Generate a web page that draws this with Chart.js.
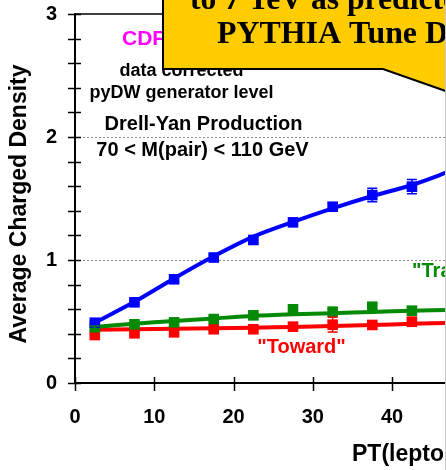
<!DOCTYPE html>
<html>
<head>
<meta charset="utf-8">
<script src="https://cdn.jsdelivr.net/npm/chart.js@4"></script>
<style>
html,body{margin:0;padding:0;background:#fff;}
canvas{display:block;}
</style>
</head>
<body>
<canvas id="c" width="446" height="470"></canvas>
<script>
// data
var ptBins=[2.5,7.5,12.5,17.5,22.5,27.5,32.5,37.5,42.5];
var fitBins=[2.5,7.5,12.5,17.5,22.5,27.5,32.5,37.5,42.5,47.5];

var awayData=[0.49,0.656,0.843,1.02,1.163,1.306,1.433,1.528,1.596];
var awayErr=[0.015,0.015,0.02,0.02,0.025,0.025,0.03,0.055,0.058];
var awayFit=[0.49,0.66,0.85,1.03,1.19,1.31,1.42,1.52,1.61,1.726];

var transData=[0.453,0.477,0.493,0.52,0.55,0.599,0.58,0.62,0.588];
var transErr=[0.01,0.01,0.01,0.015,0.015,0.02,0.02,0.025,0.025];
var transFit=[0.455,0.482,0.505,0.525,0.545,0.558,0.568,0.578,0.587,0.595];

var towardData=[0.39,0.404,0.412,0.437,0.437,0.458,0.474,0.472,0.498];
var towardErr=[0.01,0.01,0.01,0.015,0.015,0.02,0.06,0.03,0.035];
var towardFit=[0.433,0.437,0.441,0.445,0.449,0.456,0.464,0.472,0.481,0.49];

var xTicks=[0,10,20,30,40];
var yTicks=[0,1,2,3];

var BLUE='#0000ff', GREEN='#058a05', RED='#ff0000';
var SANS='"Liberation Sans", Arial, sans-serif';
var SERIF='"Liberation Serif", "Times New Roman", serif';

function pts(xs,ys){
	var out=[];
	for(var i=0;i<xs.length;i++){
		out.push({x:xs[i],y:ys[i]});
	}
	return out;
}
function markerSet(data,err,color){
	return {
		type:'scatter',
		data:pts(ptBins,data),
		err:err,
		backgroundColor:color,
		borderColor:color,
		pointStyle:'rect',
		pointRadius:7.5,
		borderWidth:0
	};
}
function fitSet(data,color){
	return {
		type:'line',
		data:pts(fitBins,data),
		borderColor:color,
		borderWidth:4,
		pointRadius:0,
		tension:0.3,
		fill:false
	};
}
function txt(ctx,s,x,y,font,color,align){
	ctx.font=font;
	ctx.fillStyle=color;
	ctx.textAlign=align||'left';
	ctx.textBaseline='middle';
	ctx.fillText(s,x,y);
}
// draw s so that its leading part `lead` spans `span` px
function fitted(ctx,s,lead,span,x,y,font){
	ctx.font=font;
	var sx=span/ctx.measureText(lead).width;
	ctx.save();
	ctx.translate(x,y);
	ctx.scale(sx,1);
	txt(ctx,s,0,0,font,'#000');
	ctx.restore();
}
function noPad(s){
	s.paddingTop=0;s.paddingBottom=0;s.paddingLeft=0;s.paddingRight=0;
}

var decor={
	id:'decor',
	beforeDatasetsDraw:function(chart){
		var ctx=chart.ctx, a=chart.chartArea, ys=chart.scales.y;
		ctx.save();
		ctx.strokeStyle='#8c8c8c';
		ctx.lineWidth=1;
		ctx.setLineDash([2,2]);
		[1,2].forEach(function(v){
			var py=Math.round(ys.getPixelForValue(v))+0.5;
			ctx.beginPath();ctx.moveTo(a.left,py);ctx.lineTo(a.right,py);ctx.stroke();
		});
		ctx.restore();
	},
	afterDatasetsDraw:function(chart){
		var ctx=chart.ctx, xs=chart.scales.x, ys=chart.scales.y;
		ctx.save();
		ctx.beginPath();
		ctx.rect(chart.chartArea.left-10,chart.chartArea.top-5,chart.chartArea.width+20,chart.chartArea.height+10);
		ctx.clip();
		chart.data.datasets.forEach(function(ds){
			if(!ds.err) return;
			ctx.strokeStyle=ds.borderColor;
			ctx.lineWidth=1.5;
			for(var i=0;i<ds.data.length;i++){
				var px=xs.getPixelForValue(ds.data[i].x);
				var top=ys.getPixelForValue(ds.data[i].y+ds.err[i]);
				var bot=ys.getPixelForValue(ds.data[i].y-ds.err[i]);
				ctx.beginPath();
				ctx.moveTo(px,top);ctx.lineTo(px,bot);
				ctx.moveTo(px-5,top);ctx.lineTo(px+5,top);
				ctx.moveTo(px-5,bot);ctx.lineTo(px+5,bot);
				ctx.stroke();
			}
		});
		ctx.restore();
	},
	afterDraw:function(chart){
		var ctx=chart.ctx, a=chart.chartArea, xs=chart.scales.x, ys=chart.scales.y;
		ctx.save();
		// frame top + ticks crossing the axes
		ctx.strokeStyle='#000';
		ctx.lineWidth=1.5;
		ctx.beginPath();ctx.moveTo(a.left,a.top);ctx.lineTo(a.right,a.top);ctx.stroke();
		for(var v=0;v<=3.001;v+=0.2){
			var py=Math.round(ys.getPixelForValue(v))+0.5;
			ctx.beginPath();ctx.moveTo(a.left-7,py);ctx.lineTo(a.left+6,py);ctx.stroke();
		}
		xTicks.forEach(function(t){
			var px=Math.round(xs.getPixelForValue(t))+0.5;
			ctx.beginPath();ctx.moveTo(px,a.bottom-6);ctx.lineTo(px,a.bottom+8);ctx.stroke();
		});

		// annotations
		txt(ctx,'CDF Run 2 Preliminary',122,39,'bold 21px '+SANS,'#ff00ff');
		txt(ctx,'data corrected',181.5,71,'bold 18px '+SANS,'#000','center');
		txt(ctx,'pyDW generator level',181.5,93,'bold 18px '+SANS,'#000','center');
		txt(ctx,'Drell-Yan Production',203.5,124,'bold 20px '+SANS,'#000','center');
		txt(ctx,'70 < M(pair) < 110 GeV',202.5,150,'bold 20px '+SANS,'#000','center');
		txt(ctx,'"Toward"',301.5,347,'bold 20px '+SANS,RED,'center');
		txt(ctx,'"Transverse"',412,271,'bold 20px '+SANS,GREEN);

		// callout box
		ctx.fillStyle='#ffcc00';
		ctx.strokeStyle='#000';
		ctx.lineWidth=2;
		ctx.beginPath();
		ctx.moveTo(163,-10);
		ctx.lineTo(163,69);
		ctx.lineTo(383,69);
		ctx.lineTo(500,110);
		ctx.lineTo(500,-10);
		ctx.closePath();
		ctx.fill();
		ctx.stroke();
		fitted(ctx,'to 7 TeV as predicted by','to 7 TeV as ',157,190,1,'bold 32px '+SERIF);
		fitted(ctx,'PYTHIA Tune DW','PYTHIA Tune ',208,217,35,'bold 32px '+SERIF);

		// axis titles
		ctx.save();
		ctx.translate(20,204);
		ctx.rotate(-Math.PI/2);
		txt(ctx,'Average Charged Density',0,0,'bold 23px '+SANS,'#000','center');
		ctx.restore();
		txt(ctx,'PT(lepton-pair) (GeV/c)',352,455,'bold 23px '+SANS,'#000');

		// picture edge
		ctx.strokeStyle='#c8c8c8';
		ctx.lineWidth=1;
		ctx.beginPath();ctx.moveTo(445.5,0);ctx.lineTo(445.5,470);ctx.stroke();
		ctx.restore();
	}
};

new Chart(document.getElementById('c'),{
	data:{
		datasets:[
			markerSet(awayData,awayErr,BLUE),
			markerSet(transData,transErr,GREEN),
			markerSet(towardData,towardErr,RED),
			fitSet(awayFit,BLUE),
			fitSet(transFit,GREEN),
			fitSet(towardFit,RED)
		]
	},
	options:{
		responsive:false,
		animation:false,
		devicePixelRatio:1,
		layout:{autoPadding:false,padding:{top:14,left:0,right:0,bottom:0}},
		plugins:{legend:{display:false},tooltip:{enabled:false}},
		scales:{
			x:{
				type:'linear',
				min:0,
				max:46.8,
				afterBuildTicks:function(s){ s.ticks=xTicks.map(function(v){return {value:v};}); },
				afterFit:function(s){ s.height=87; noPad(s); },
				grid:{display:false,drawTicks:false},
				border:{display:true,color:'#000',width:2},
				ticks:{color:'#000',padding:22,font:{family:SANS,size:20,weight:'bold'},maxRotation:0}
			},
			y:{
				type:'linear',
				min:0,
				max:3,
				afterBuildTicks:function(s){ s.ticks=yTicks.map(function(v){return {value:v};}); },
				afterFit:function(s){ s.width=75; noPad(s); },
				grid:{display:false,drawTicks:false},
				border:{display:true,color:'#000',width:2},
				ticks:{color:'#000',padding:18,font:{family:SANS,size:20,weight:'bold'}}
			}
		}
	},
	plugins:[decor]
});
</script>
</body>
</html>
